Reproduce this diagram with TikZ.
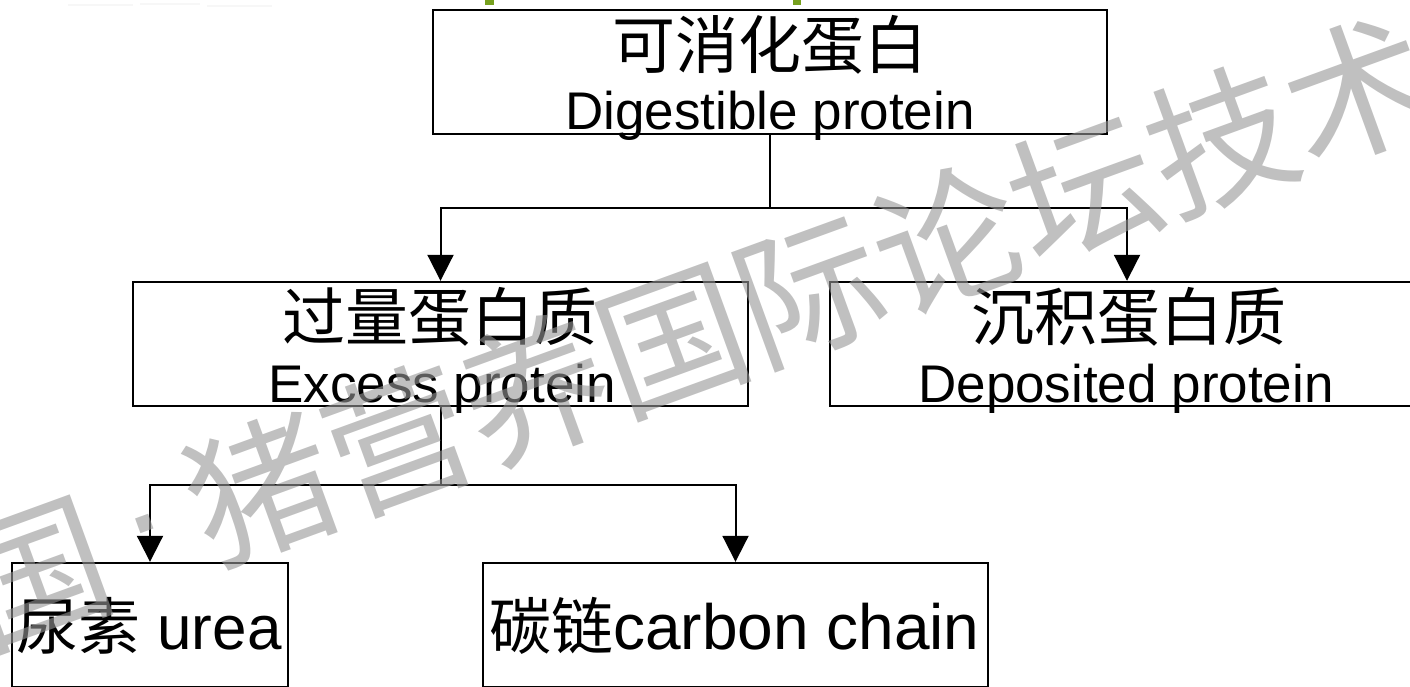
\documentclass[tikz,border=0pt]{standalone}
\usepackage{fontspec}
\setmainfont{Liberation Sans}
\newfontfamily\zh{Noto Sans CJK SC}
\usetikzlibrary{arrows.meta}
\definecolor{wmgray}{RGB}{150,150,150}
\definecolor{markgreen}{RGB}{118,160,30}
\begin{document}
\begin{tikzpicture}[x=1pt,y=-1pt,
  boxstyle/.style={draw=black, line width=2.4pt, inner sep=0pt},
  zhtext/.style={font=\zh\fontsize{63}{70}\selectfont, inner sep=0pt, anchor=base},
  entext/.style={font=\fontsize{53}{60}\selectfont, inner sep=0pt, anchor=base},
  bottext/.style={font=\fontsize{62}{70}\selectfont, inner sep=0pt, anchor=base west},
  conn/.style={line width=2pt, -{Triangle[length=26pt,width=26pt]}},
  wm/.style={font=\zh\fontsize{146}{150}\selectfont, text=wmgray, text opacity=0.6, inner sep=0pt}
]
\useasboundingbox (0,0) rectangle (1410,686);
\clip (0,0) rectangle (1410,686);

% fragments at the top edge
\fill[markgreen] (485,0) rectangle (494,5);
\fill[markgreen] (793,0) rectangle (801,5);
\draw[gray!6, line width=1.5pt] (68,5) -- (133,5) (140,4) -- (200,4) (207,6) -- (272,6);

% boxes
\node[boxstyle, minimum width=674pt, minimum height=124pt] (dig) at (770,72) {};
\node[zhtext] (digzh) at (770,68) {可消化蛋白};
\node[entext] (digen) at (770,129) {Digestible protein};

\node[boxstyle, minimum width=615pt, minimum height=124pt] (exc) at (440.5,344) {};
\node[zhtext] (exczh) at (440,340) {过量蛋白质};
\node[entext] (excen) at (442,402) {Excess protein};

\node[boxstyle, minimum width=594pt, minimum height=124pt] (dep) at (1127,344) {};
\node[zhtext] (depzh) at (1129,340) {沉积蛋白质};
\node[entext] (depen) at (1126,402) {Deposited protein};

\node[boxstyle, minimum width=276pt, minimum height=124pt] (urea) at (150,625) {};
\node[bottext] (ureat) at (16,649) {{\zh 尿素} urea};

\node[boxstyle, minimum width=505pt, minimum height=124pt] (carb) at (735.5,625) {};
\node[bottext] (carbt) at (489,649) {{\zh 碳链}\fontsize{64}{70}\selectfont carbon chain};

% connectors
\coordinate (j1) at (770,208);
\draw[conn] (dig.south) -- (j1) -| (exc.north);
\draw[conn] (j1) -| (dep.north);
\coordinate (j2) at (440.5,485);
\draw[conn] (exc.south) -- (j2) -| (urea.north);
\draw[conn] (j2) -| (carb.north);

% watermark
\node[wm, rotate=20, anchor=base east] (wmk) at (1446,117)
  {中国\hspace{0.16em}{\fontspec{Liberation Sans}\raisebox{0.16em}{·}}\hspace{0.16em}猪营养国际论坛技术};
\end{tikzpicture}
\end{document}
